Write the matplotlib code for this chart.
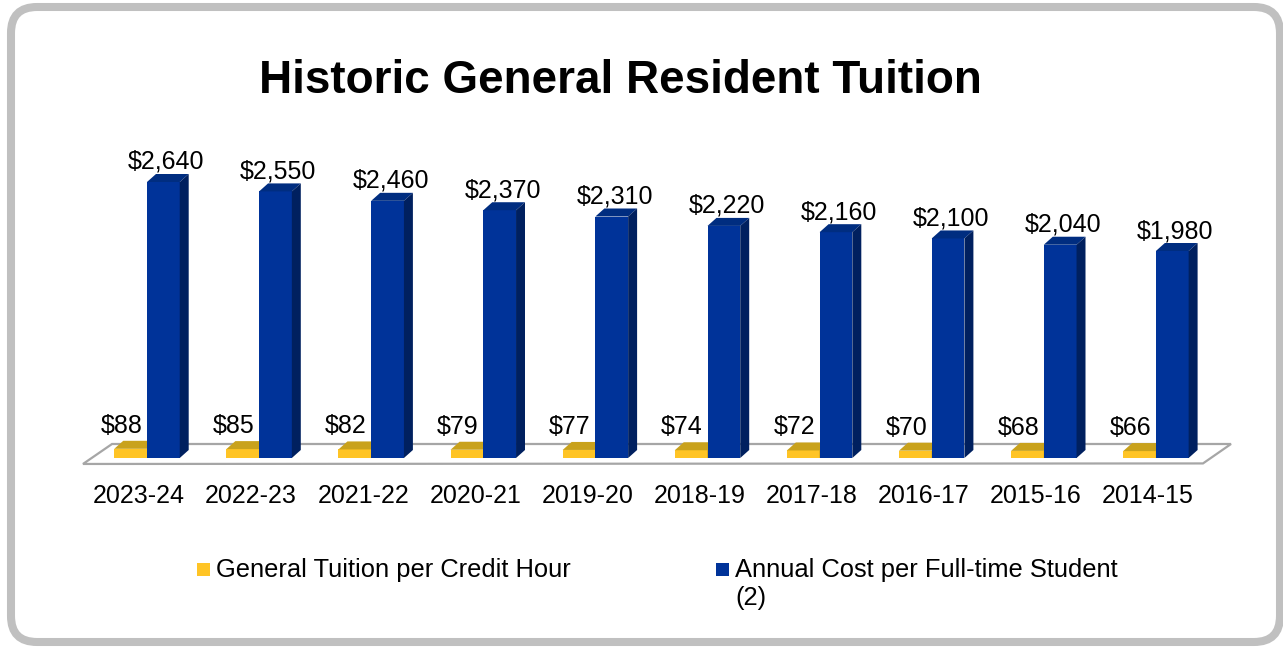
import matplotlib
matplotlib.use("Agg")
import matplotlib.pyplot as plt
from matplotlib.patches import Polygon, FancyBboxPatch, Rectangle

plt.rcParams['font.family'] = ['Liberation Sans', 'DejaVu Sans']

categories = ["2023-24", "2022-23", "2021-22", "2020-21", "2019-20",
              "2018-19", "2017-18", "2016-17", "2015-16", "2014-15"]
credit_hour = [88, 85, 82, 79, 77, 74, 72, 70, 68, 66]
annual_cost = [2640, 2550, 2460, 2370, 2310, 2220, 2160, 2100, 2040, 1980]
series_names = ["General Tuition per Credit Hour",
                "Annual Cost per Full-time Student\n(2)"]
title = "Historic General Resident Tuition"

W, H = 1283, 647
fig = plt.figure(figsize=(W / 100, H / 100), dpi=100)
fig.patch.set_facecolor("white")

# rounded grey frame (in inches, isotropic)
frame = FancyBboxPatch((11 / 100, (H - 642) / 100), (1280 - 11) / 100, (642 - 7) / 100,
                       boxstyle="round,pad=0,rounding_size=0.26",
                       transform=fig.dpi_scale_trans, facecolor="none",
                       edgecolor="#c0c0c0", linewidth=5.8, zorder=-1)
fig.patches.append(frame)

# axes placement (pixel geometry)
ax_left, ax_right, ax_top, ax_bot = 60, 1250, 100, 480
ax = fig.add_axes([ax_left / W, (H - ax_bot) / H, (ax_right - ax_left) / W, (ax_bot - ax_top) / H])
ax.set_facecolor("none")
px_per_x = 112.1
x0_px = 147
px_per_v = 276 / 2640
y0_px = 458
ax.set_xlim((ax_left - x0_px) / px_per_x, (ax_right - x0_px) / px_per_x)
ax.set_ylim(-(ax_bot - y0_px) / px_per_v, (y0_px - ax_top) / px_per_v)
for s in ax.spines.values():
    s.set_visible(False)
ax.set_xticks([])
ax.set_yticks([])

# floor
fl = [(-0.571, -57), (9.42, -52), (9.67, 134), (-0.312, 134)]
ax.add_patch(Polygon(fl, closed=True, facecolor="white", edgecolor="#a6a6a6",
                     linewidth=1.6, zorder=1))

xs = list(range(len(categories)))
bw = 0.292
dx = 0.08
dy = 8 / px_per_v

yel = dict(front="#ffc425", top="#c9a21c", side="#b8901a")
blu = dict(front="#003399", top="#002d80", side="#00205f")


def draw_3d(bars, cols, z):
    for p in bars:
        x_a = p.get_x()
        x_b = x_a + p.get_width()
        h = p.get_height()
        p.set_zorder(z)
        ax.add_patch(Polygon([(x_a, h), (x_b, h), (x_b + dx, h + dy), (x_a + dx, h + dy)],
                             closed=True, facecolor=cols["top"], edgecolor="none", zorder=z))
        ax.add_patch(Polygon([(x_b, 0), (x_b + dx, dy), (x_b + dx, h + dy), (x_b, h)],
                             closed=True, facecolor=cols["side"], edgecolor="none", zorder=z))


yb = ax.bar([x - bw / 2 for x in xs], credit_hour, width=bw, color=yel["front"],
            edgecolor="none", label=series_names[0])
draw_3d(yb, yel, 2)
bb = ax.bar([x + bw / 2 for x in xs], annual_cost, width=bw, color=blu["front"],
            edgecolor="none", label=series_names[1])
draw_3d(bb, blu, 3)

# value labels
for x, v in zip(xs, credit_hour):
    ax.annotate(f"${v:,}", (x - bw / 2, v), xytext=(-9, 16), textcoords="offset pixels",
                ha="center", va="baseline", fontsize=18, color="black", zorder=5)
for x, v in zip(xs, annual_cost):
    ax.annotate(f"${v:,}", (x + bw / 2, v), xytext=(3, 13), textcoords="offset pixels",
                ha="center", va="baseline", fontsize=18, color="black", zorder=5)

# category labels
for x, c in zip(xs, categories):
    ax.annotate(c, (x, 0), xytext=(-8, -45), textcoords="offset pixels",
                ha="center", va="baseline", fontsize=18, color="black", annotation_clip=False)

# title
fig.text(620.5 / W, (H - 93) / H, title, ha="center", va="baseline",
         fontsize=33, fontweight="bold", color="black")

# legend (manual)
leg = [(197, yel["front"], series_names[0]), (716, blu["front"], series_names[1])]
for lx, col, lab in leg:
    fig.patches.append(Rectangle((lx / W, (H - 576) / H), 13 / W, 13 / H,
                                 transform=fig.transFigure, facecolor=col, edgecolor="none"))
    for k, line in enumerate(lab.split("\n")):
        fig.text((lx + 19) / W, (H - 577 - 28 * k) / H, line, ha="left", va="baseline",
                 fontsize=18.4, color="black")

fig.savefig("out.png", dpi=100, facecolor="white")
